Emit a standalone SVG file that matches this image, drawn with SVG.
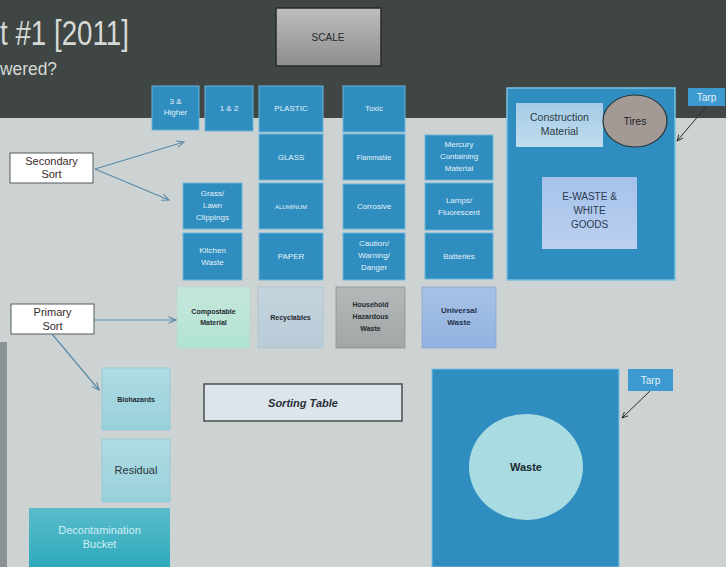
<svg xmlns="http://www.w3.org/2000/svg" width="726" height="567" viewBox="0 0 726 567">
<defs>
<style>
.blue{fill:#2f8dbf;stroke:#6fb4da;stroke-width:1}
.wt{font-family:"Liberation Sans",Arial,sans-serif;font-size:8px;fill:#e4f2fa;text-anchor:middle}
.dt{font-family:"Liberation Sans",Arial,sans-serif;font-size:8px;fill:#1e2a30;text-anchor:middle;font-weight:bold}
.lbl{fill:#ffffff;stroke:#555a5c;stroke-width:1}
.lt{font-family:"Liberation Sans",Arial,sans-serif;font-size:11px;fill:#3a2a2a;text-anchor:middle}
.conn{stroke:#5a8aa8;stroke-width:1.2;fill:none}
.dconn{stroke:#2a2e30;stroke-width:1;fill:none}
</style>
<linearGradient id="gScale" x1="0" y1="0" x2="0" y2="1"><stop offset="0" stop-color="#bdbdbd"/><stop offset="1" stop-color="#8e8e8e"/></linearGradient>
<linearGradient id="gComp" x1="0" y1="0" x2="0" y2="1"><stop offset="0" stop-color="#c6e6dc"/><stop offset="1" stop-color="#b2e4d2"/></linearGradient>
<linearGradient id="gRec" x1="0" y1="0" x2="0" y2="1"><stop offset="0" stop-color="#c4d4dc"/><stop offset="1" stop-color="#b8ccd8"/></linearGradient>
<linearGradient id="gHaz" x1="0" y1="0" x2="0" y2="1"><stop offset="0" stop-color="#b4b8b8"/><stop offset="1" stop-color="#a2a6a6"/></linearGradient>
<linearGradient id="gUni" x1="0" y1="0" x2="0" y2="1"><stop offset="0" stop-color="#a8c2e6"/><stop offset="1" stop-color="#92b2e0"/></linearGradient>
<linearGradient id="gBio" x1="0" y1="0" x2="0" y2="1"><stop offset="0" stop-color="#b0dce4"/><stop offset="1" stop-color="#98d0dc"/></linearGradient>
<linearGradient id="gBuck" x1="0" y1="0" x2="0" y2="1"><stop offset="0" stop-color="#5abccc"/><stop offset="1" stop-color="#2eaabb"/></linearGradient>
<linearGradient id="gCons" x1="0" y1="0" x2="0" y2="1"><stop offset="0" stop-color="#a4cce6"/><stop offset="1" stop-color="#c2dcee"/></linearGradient>
<linearGradient id="gEw" x1="0" y1="0" x2="0" y2="1"><stop offset="0" stop-color="#a6c2ea"/><stop offset="1" stop-color="#bcd0f0"/></linearGradient>
<marker id="ah" viewBox="0 0 10 10" refX="9" refY="5" markerWidth="7" markerHeight="7" orient="auto"><path d="M0,1 L9,5 L0,9" fill="none" stroke="#5a8aa8" stroke-width="1.3"/></marker>
<marker id="ahd" viewBox="0 0 10 10" refX="9" refY="5" markerWidth="7" markerHeight="7" orient="auto"><path d="M0,1 L9,5 L0,9" fill="none" stroke="#2a2e30" stroke-width="1.3"/></marker>
</defs>

<!-- background -->
<rect x="0" y="0" width="726" height="567" fill="#cdd3d3"/>
<rect x="0" y="0" width="726" height="118" fill="#3f4644"/>
<rect x="0" y="342" width="7" height="225" fill="#8a9294"/>

<g id="title">
<text x="0" y="45" font-family="Liberation Sans,Arial,sans-serif" font-size="35" fill="#d6dad6" textLength="129" lengthAdjust="spacingAndGlyphs">t #1 [2011]</text>
<text x="0" y="75" font-family="Liberation Sans,Arial,sans-serif" font-size="18" fill="#d6dad6" textLength="57" lengthAdjust="spacingAndGlyphs">wered?</text>
</g>

<g id="scale">
<rect x="276" y="8" width="105" height="58" fill="url(#gScale)" stroke="#2a2a2a" stroke-width="1.5"/>
<text x="328" y="41" class="dt" style="font-weight:normal;font-size:10px">SCALE</text>
</g>

<g id="three-higher"><rect class="blue" x="152" y="86" width="47" height="44"/><text class="wt" x="175.5" y="104">3 &amp;</text><text class="wt" x="175.5" y="115">Higher</text></g>
<g id="one-two"><rect class="blue" x="205" y="86" width="48" height="45"/><text class="wt" x="229" y="111">1 &amp; 2</text></g>
<g id="plastic"><rect class="blue" x="259" y="86" width="64" height="46"/><text class="wt" x="291" y="111">PLASTIC</text></g>
<g id="glass"><rect class="blue" x="259" y="134" width="64" height="46"/><text class="wt" x="291" y="160">GLASS</text></g>
<g id="aluminum"><rect class="blue" x="259" y="183" width="64" height="46"/><text class="wt" x="291" y="209" style="font-size:6px">ALUMINUM</text></g>
<g id="paper"><rect class="blue" x="259" y="233" width="64" height="47"/><text class="wt" x="291" y="259">PAPER</text></g>
<g id="toxic"><rect class="blue" x="343" y="86" width="62" height="46"/><text class="wt" x="374" y="111">Toxic</text></g>
<g id="flammable"><rect class="blue" x="343" y="134" width="62" height="46"/><text class="wt" x="374" y="160" style="font-size:7px">Flammable</text></g>
<g id="corrosive"><rect class="blue" x="343" y="184" width="62" height="45"/><text class="wt" x="374" y="209">Corrosive</text></g>
<g id="caution"><rect class="blue" x="343" y="233" width="62" height="47"/><text class="wt" x="374" y="246">Caution/</text><text class="wt" x="374" y="258">Warning/</text><text class="wt" x="374" y="270">Danger</text></g>
<g id="grass"><rect class="blue" x="183" y="183" width="59" height="46"/><text class="wt" x="212.5" y="196">Grass/</text><text class="wt" x="212.5" y="208">Lawn</text><text class="wt" x="212.5" y="220">Clippings</text></g>
<g id="kitchen"><rect class="blue" x="183" y="233" width="59" height="47"/><text class="wt" x="212.5" y="253">Kitchen</text><text class="wt" x="212.5" y="265">Waste</text></g>
<g id="mercury"><rect class="blue" x="425" y="135" width="68" height="45"/><text class="wt" x="459" y="147">Mercury</text><text class="wt" x="459" y="159">Containing</text><text class="wt" x="459" y="171">Material</text></g>
<g id="lamps"><rect class="blue" x="425" y="183" width="68" height="47"/><text class="wt" x="459" y="203">Lamps/</text><text class="wt" x="459" y="215">Fluorescent</text></g>
<g id="batteries"><rect class="blue" x="425" y="233" width="68" height="46"/><text class="wt" x="459" y="259">Batteries</text></g>

<g id="construction-area">
<rect x="507" y="88" width="168" height="192" fill="#2f8dbf" stroke="#7cc0e2" stroke-width="1.5"/>
</g>
<g id="construction"><rect x="516" y="103" width="87" height="44" fill="url(#gCons)"/><text class="lt" x="559.5" y="121" style="fill:#2a3a44;font-size:10.5px">Construction</text><text class="lt" x="559.5" y="135" style="fill:#2a3a44;font-size:10.5px">Material</text></g>
<g id="tires"><ellipse cx="635" cy="121" rx="32" ry="26" fill="#a39a96" stroke="#2a3438" stroke-width="1.2"/><text class="lt" x="635" y="125" style="fill:#1e2226;font-size:10.5px">Tires</text></g>
<g id="ewaste"><rect x="542" y="177" width="95" height="72" fill="url(#gEw)"/><text class="lt" x="589.5" y="200" style="fill:#2a3a50;font-size:10px">E-WASTE &amp;</text><text class="lt" x="589.5" y="214" style="fill:#2a3a50;font-size:10px">WHITE</text><text class="lt" x="589.5" y="228" style="fill:#2a3a50;font-size:10px">GOODS</text></g>
<g id="tarp-top"><rect x="688" y="88" width="37" height="18" fill="#3c9ad0"/><text class="wt" x="706.5" y="101" style="font-size:10px">Tarp</text></g>

<g id="secondary-sort"><rect class="lbl" x="10" y="153" width="83" height="30"/><text class="lt" x="51.5" y="165">Secondary</text><text class="lt" x="51.5" y="178">Sort</text></g>
<g id="primary-sort"><rect class="lbl" x="11" y="304" width="83" height="30"/><text class="lt" x="52.5" y="316">Primary</text><text class="lt" x="52.5" y="330">Sort</text></g>

<g id="compostable"><rect x="177" y="287" width="73" height="61" fill="url(#gComp)" stroke="#b8d8d0" stroke-width="0.8"/><text class="dt" x="213.5" y="314" style="font-size:7px">Compostable</text><text class="dt" x="213.5" y="325" style="font-size:7px">Material</text></g>
<g id="recyclables"><rect x="258" y="287" width="65" height="61" fill="url(#gRec)" stroke="#b0c4cc" stroke-width="0.8"/><text class="dt" x="290.5" y="320" style="font-size:7px">Recyclables</text></g>
<g id="household"><rect x="336" y="287" width="69" height="61" fill="url(#gHaz)" stroke="#8e9292" stroke-width="0.8"/><text class="dt" x="370.5" y="307" style="font-size:7px">Household</text><text class="dt" x="370.5" y="319" style="font-size:7px">Hazardous</text><text class="dt" x="370.5" y="331" style="font-size:7px">Waste</text></g>
<g id="universal"><rect x="422" y="287" width="74" height="61" fill="url(#gUni)" stroke="#8aa8d0" stroke-width="0.8"/><text class="dt" x="459" y="313" style="fill:#26304a">Universal</text><text class="dt" x="459" y="325" style="fill:#26304a">Waste</text></g>

<g id="sorting-table"><rect x="204" y="384" width="198" height="37" fill="#dce4ec" stroke="#4a4e52" stroke-width="1.5"/><text class="lt" x="303" y="407" style="font-weight:bold;font-style:italic;fill:#2a3038">Sorting Table</text></g>

<g id="biohazards"><rect x="102" y="368" width="68" height="62" fill="url(#gBio)" stroke="#90c8d4" stroke-width="0.8"/><text class="dt" x="136" y="402" style="font-size:7px">Biohazards</text></g>
<g id="residual"><rect x="102" y="439" width="68" height="63" fill="url(#gBio)" stroke="#90c8d4" stroke-width="0.8"/><text class="lt" x="136" y="474" style="fill:#2a3438">Residual</text></g>
<g id="decon"><rect x="29" y="508" width="141" height="59" fill="url(#gBuck)"/><text class="lt" x="99.5" y="534" style="fill:#cfeef4">Decontamination</text><text class="lt" x="99.5" y="548" style="fill:#cfeef4">Bucket</text></g>

<g id="waste-area"><rect x="432" y="369" width="187" height="198" fill="#2f8dbf" stroke="#7cc0e2" stroke-width="1"/></g>
<g id="waste"><ellipse cx="526" cy="467" rx="57" ry="53" fill="#a8dce2"/><text class="lt" x="526" y="471" style="font-weight:bold;fill:#1e2a30">Waste</text></g>
<g id="tarp-bottom"><rect x="628" y="369" width="45" height="22" fill="#3c9ad0"/><text class="wt" x="650.5" y="384" style="font-size:10px">Tarp</text></g>

<g id="connectors">
<path class="conn" d="M95,169 L184,142" marker-end="url(#ah)"/>
<path class="conn" d="M95,169 L169,200" marker-end="url(#ah)"/>
<path class="conn" d="M94,320 L176,320" marker-end="url(#ah)"/>
<path class="conn" d="M52,334 L99,390" marker-end="url(#ah)"/>
<path class="dconn" d="M706,107 L677,141" marker-end="url(#ahd)"/>
<path class="dconn" d="M650,391 L622,418" marker-end="url(#ahd)"/>
</g>
</svg>
